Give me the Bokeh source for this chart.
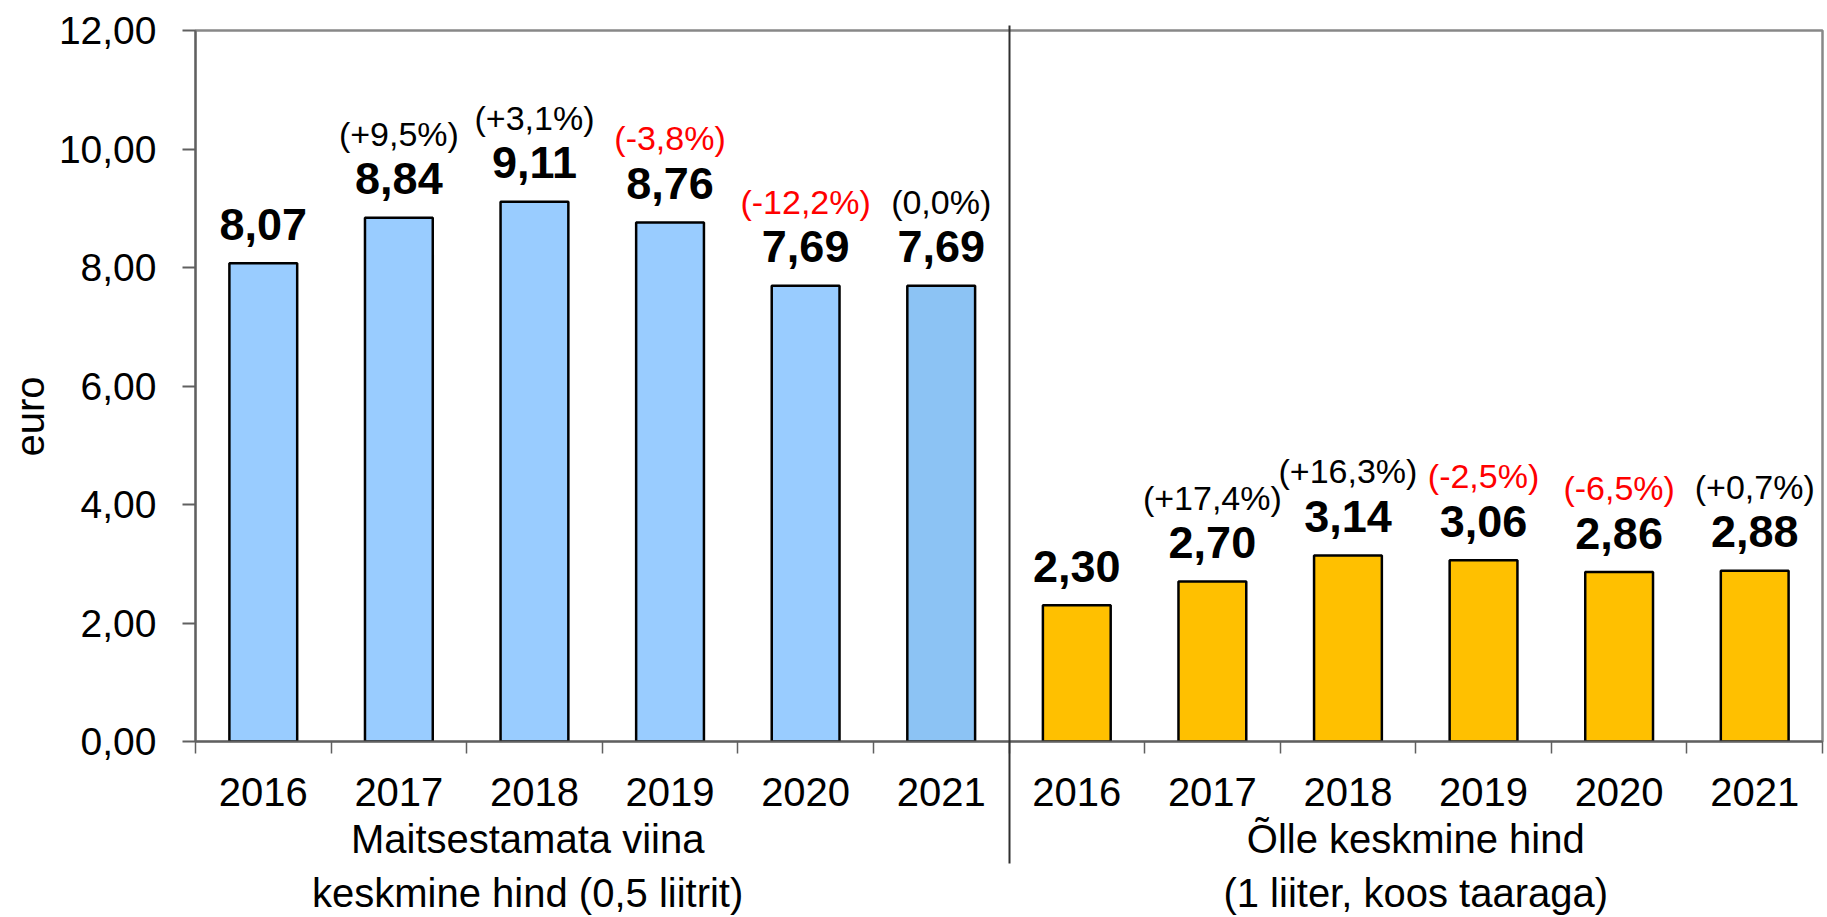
import math
from bokeh.plotting import figure
from bokeh.models import Range1d, FixedTicker, LinearAxis, ColumnDataSource, Title
from bokeh.core.properties import value
from bokeh.embed import file_html
from bokeh.resources import INLINE

# ---- data ----
years = ["2016", "2017", "2018", "2019", "2020", "2021"]
vodka = [8.07, 8.84, 9.11, 8.76, 7.69, 7.69]
beer = [2.30, 2.70, 3.14, 3.06, 2.86, 2.88]
vodka_change = ["", "(+9,5%)", "(+3,1%)", "(-3,8%)", "(-12,2%)", "(0,0%)"]
beer_change = ["", "(+17,4%)", "(+16,3%)", "(-2,5%)", "(-6,5%)", "(+0,7%)"]
group_line1 = ["Maitsestamata viina", "Õlle keskmine hind"]
group_line2 = ["keskmine hind (0,5 liitrit)", "(1 liiter, koos taaraga)"]
y_ticks = [0, 2, 4, 6, 8, 10, 12]
y_tick_labels = ["0,00", "2,00", "4,00", "6,00", "8,00", "10,00", "12,00"]
y_axis_title = "euro"

FONT = "Liberation Sans"
n = len(years)
values = vodka + beer
changes = vodka_change + beer_change
centers = [i + 0.5 for i in range(2 * n)]
boundaries = list(range(2 * n + 1))
fills = ["#99CCFF"] * (n - 1) + ["#8CC3F4"] + ["#FFC000"] * n
labels = [f"{v:.2f}".replace(".", ",") for v in values]
pct_colors = ["#FF0000" if c.startswith("(-") else "#000000" for c in changes]

src = ColumnDataSource(dict(x=centers, top=values, color=fills, label=labels,
                            pct=changes, pct_color=pct_colors))

p = figure(width=1827, height=917, x_range=Range1d(0, 2 * n), y_range=Range1d(0, 12),
           output_backend="svg", toolbar_location=None,
           x_axis_type=None, y_axis_type=None,
           min_border_left=195, min_border_right=5, min_border_top=30, min_border_bottom=175)
p.background_fill_color = "white"
p.border_fill_color = "white"
p.outline_line_color = "#888888"
p.outline_line_width = 2.5

# y axis
yax = LinearAxis(ticker=FixedTicker(ticks=y_ticks),
                 major_label_overrides=dict(zip(y_ticks, y_tick_labels)),
                 major_label_text_font=FONT, major_label_text_font_size="39px",
                 major_label_text_color="black",
                 major_label_standoff=26, major_tick_out=13, major_tick_in=0,
                 minor_tick_line_color=None,
                 axis_line_color="#606060", axis_line_width=2,
                 major_tick_line_color="#606060", major_tick_line_width=2)
p.add_layout(yax, "left")

# "euro" title on the left
p.add_layout(Title(text=y_axis_title, align="left", offset=285, standoff=8,
                   text_font=FONT, text_font_size="40px", text_font_style="normal",
                   text_color="black"), "left")

# grid
p.ygrid.ticker = FixedTicker(ticks=y_ticks)
p.ygrid.grid_line_color = "#C0C0C0"
p.ygrid.grid_line_width = 2
p.xgrid.visible = False

# year axis
xax = LinearAxis(ticker=FixedTicker(ticks=centers, minor_ticks=boundaries),
                 major_label_overrides=dict(zip(centers, years + years)),
                 major_label_text_font=FONT, major_label_text_font_size="40px",
                 major_label_text_color="black",
                 major_label_standoff=24, major_tick_out=12, major_tick_in=0,
                 major_tick_line_color=None,
                 minor_tick_out=12, minor_tick_in=0,
                 minor_tick_line_color="#606060", minor_tick_line_width=1.5,
                 axis_line_color="#606060", axis_line_width=2)
p.add_layout(xax, "below")

# group labels line 1
g_pos = [2.45, 9.0]
g1 = LinearAxis(ticker=FixedTicker(ticks=g_pos),
                major_label_overrides=dict(zip(g_pos, group_line1)),
                major_label_text_font=FONT, major_label_text_font_size="40px",
                major_label_text_color="black",
                major_label_standoff=8, major_tick_out=0, major_tick_in=0,
                major_tick_line_color=None, minor_tick_line_color=None,
                axis_line_color=None)
p.add_layout(g1, "below")

# group labels line 2 (+ group separator as an inward minor tick)
g2 = LinearAxis(ticker=FixedTicker(ticks=g_pos, minor_ticks=[n]),
                major_label_overrides=dict(zip(g_pos, group_line2)),
                major_label_text_font=FONT, major_label_text_font_size="40px",
                major_label_text_color="black",
                major_label_standoff=7, major_tick_out=0, major_tick_in=0,
                major_tick_line_color=None, axis_line_color=None,
                minor_tick_in=838, minor_tick_out=0,
                minor_tick_line_color="#303030", minor_tick_line_width=2)
p.add_layout(g2, "below")

# bars
p.vbar(x="x", top="top", bottom=0, width=0.5, fill_color="color",
       line_color="black", line_width=2.5, source=src)

# value labels
p.text(x="x", y="top", text="label", source=src,
       text_font=value(FONT), text_font_size="45px", text_font_style="bold",
       text_align="center", text_baseline="alphabetic", y_offset=-39, text_color="black")

# change labels
p.text(x="x", y="top", text="pct", source=src,
       text_font=value(FONT), text_font_size="34px",
       text_align="center", text_baseline="alphabetic", y_offset=-84, text_color="pct_color")

open("out.html", "w").write(file_html(p, INLINE))
